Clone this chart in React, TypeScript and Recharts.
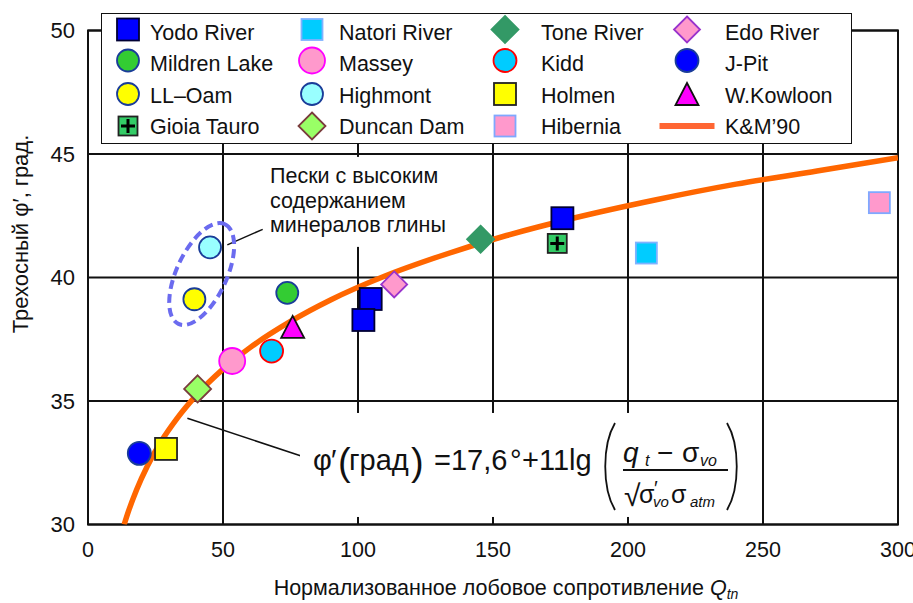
import React from 'react';
import {
  ComposedChart,
  Scatter,
  Line,
  XAxis,
  YAxis,
  CartesianGrid,
  Legend,
  ReferenceLine,
  ReferenceDot,
  ReferenceArea,
} from 'recharts';

const FONT = '"Liberation Sans", Arial, Helvetica, sans-serif';

// Qtn / φ' readings per site
const yodoRiver = [{ x: 175.7, y: 42.4 }, { x: 104.7, y: 39.13 }, { x: 102.0, y: 38.28 }];
const mildrenLake = [{ x: 73.8, y: 39.38 }];
const llOam = [{ x: 39.4, y: 39.12 }];
const gioiaTauro = [{ x: 173.8, y: 41.38 }];
const natoriRiver = [{ x: 206.8, y: 40.99 }];
const massey = [{ x: 53.4, y: 36.62 }];
const highmont = [{ x: 45.2, y: 41.22 }];
const duncanDam = [{ x: 40.6, y: 35.49 }];
const toneRiver = [{ x: 145.4, y: 41.55 }];
const kidd = [{ x: 68.0, y: 37.02 }];
const holmen = [{ x: 28.9, y: 33.06 }];
const hibernia = [{ x: 293.1, y: 43.03 }];
const edoRiver = [{ x: 113.4, y: 39.72 }];
const jPit = [{ x: 19.0, y: 32.88 }];
const wKowloon = [{ x: 75.8, y: 38.0 }];

// K&M'90 curve, read off the picture
const kmQ = [13.4, 15, 18, 22, 27, 33, 40, 50, 60, 75, 90, 110, 130, 155, 180, 210, 240, 270, 300];
const kmPhi = [30.0, 30.54, 31.41, 32.37, 33.35, 34.3, 35.22, 36.29, 37.16, 38.22, 39.1, 40.06, 40.85, 41.7, 42.41, 43.14, 43.78, 44.31, 44.85];
const kmCurve = kmQ.map((q, i) => ({ x: q, y: kmPhi[i] }));

const xTicks = [0, 50, 100, 150, 200, 250, 300];
const yTicks = [30, 35, 40, 45, 50];

type Kind = 'square' | 'circle' | 'diamond' | 'triangle' | 'plus' | 'line';
interface Mark { kind: Kind; size: number; fill: string; stroke: string }

// legend order is column-major, 4 rows
const series: { name: string; data: { x: number; y: number }[]; m: Mark }[] = [
  { name: 'Yodo River', data: yodoRiver, m: { kind: 'square', size: 22, fill: '#0000ff', stroke: '#000033' } },
  { name: 'Mildren Lake', data: mildrenLake, m: { kind: 'circle', size: 22, fill: '#33cc33', stroke: '#1a3d99' } },
  { name: 'LL–Oam', data: llOam, m: { kind: 'circle', size: 22, fill: '#ffff00', stroke: '#1a3d99' } },
  { name: 'Gioia Tauro', data: gioiaTauro, m: { kind: 'plus', size: 19, fill: '#33cc66', stroke: '#222' } },
  { name: 'Natori River', data: natoriRiver, m: { kind: 'square', size: 21, fill: '#00ccff', stroke: '#7fb2ff' } },
  { name: 'Massey', data: massey, m: { kind: 'circle', size: 26, fill: '#ff99cc', stroke: '#ff00ff' } },
  { name: 'Highmont', data: highmont, m: { kind: 'circle', size: 22, fill: '#99ffff', stroke: '#1a3d99' } },
  { name: 'Duncan Dam', data: duncanDam, m: { kind: 'diamond', size: 27, fill: '#99ff66', stroke: '#7a3d3d' } },
  { name: 'Tone River', data: toneRiver, m: { kind: 'diamond', size: 27, fill: '#339966', stroke: '#339966' } },
  { name: 'Kidd', data: kidd, m: { kind: 'circle', size: 23, fill: '#00ccff', stroke: '#ff0000' } },
  { name: 'Holmen', data: holmen, m: { kind: 'square', size: 22, fill: '#ffff00', stroke: '#222' } },
  { name: 'Hibernia', data: hibernia, m: { kind: 'square', size: 21, fill: '#ff99cc', stroke: '#7fa8ff' } },
  { name: 'Edo River', data: edoRiver, m: { kind: 'diamond', size: 26, fill: '#ff99cc', stroke: '#9933cc' } },
  { name: 'J-Pit', data: jPit, m: { kind: 'circle', size: 23, fill: '#0000ff', stroke: '#1a3d99' } },
  { name: 'W.Kowloon', data: wKowloon, m: { kind: 'triangle', size: 22, fill: '#ff00ff', stroke: '#111' } },
];
const kmMark: Mark = { kind: 'line', size: 55, fill: 'none', stroke: '#ff6633' };

const drawMark = (m: Mark, cx: number, cy: number) => {
  const h = m.size / 2;
  if (m.kind === 'square')
    return <rect x={cx - h} y={cy - h} width={m.size} height={m.size} fill={m.fill} stroke={m.stroke} strokeWidth={1.8} />;
  if (m.kind === 'circle')
    return <circle cx={cx} cy={cy} r={h} fill={m.fill} stroke={m.stroke} strokeWidth={1.8} />;
  if (m.kind === 'diamond')
    return (
      <polygon
        points={`${cx},${cy - h} ${cx + h},${cy} ${cx},${cy + h} ${cx - h},${cy}`}
        fill={m.fill}
        stroke={m.stroke}
        strokeWidth={1.8}
      />
    );
  if (m.kind === 'triangle')
    return (
      <polygon
        points={`${cx},${cy - h} ${cx + h + 0.5},${cy + h} ${cx - h - 0.5},${cy + h}`}
        fill={m.fill}
        stroke={m.stroke}
        strokeWidth={1.8}
      />
    );
  if (m.kind === 'plus')
    return (
      <g>
        <rect x={cx - h} y={cy - h} width={m.size} height={m.size} fill={m.fill} stroke={m.stroke} strokeWidth={1.8} />
        <path d={`M${cx - 7} ${cy}H${cx + 7}M${cx} ${cy - 7}V${cy + 7}`} stroke="#000" strokeWidth={3} />
      </g>
    );
  return <line x1={cx - h} x2={cx + h} y1={cy} y2={cy} stroke={m.stroke} strokeWidth={6} />;
};

const legendIconX = [27, 211, 404, 586];
const legendTextX = [49, 238, 440, 624];
const legendIconY = [16.5, 47.5, 81, 113];
const legendTextY = [26.5, 57.5, 90, 120.5];

const LegendBox = () => {
  const items = [...series.map((s) => ({ name: s.name, m: s.m })), { name: 'K&M’90', m: kmMark }];
  return (
    <div style={{ width: 751, height: 131, background: '#fff', border: '1.5px solid #111', boxSizing: 'border-box' }}>
      <svg width={748} height={128} style={{ display: 'block', position: 'absolute', left: 0, top: 0 }}>
        {items.map((it, i) => {
          const col = Math.floor(i / 4);
          const row = i % 4;
          return (
            <g key={it.name}>
              {drawMark(it.m, legendIconX[col], legendIconY[row])}
              <text x={legendTextX[col]} y={legendTextY[row]} fontSize={21.5} fontFamily={FONT} fill="#111">
                {it.name}
              </text>
            </g>
          );
        })}
      </svg>
    </div>
  );
};

const XTick = (props: any) => (
  <text x={props.x} y={557} textAnchor="middle" fontSize={21.5} fontFamily={FONT} fill="#111">
    {props.payload.value}
  </text>
);

const YTick = (props: any) => (
  <text x={75} y={props.y + 7.8} textAnchor="end" fontSize={22} fontFamily={FONT} fill="#111">
    {props.payload.value}
  </text>
);

const NoteShape = (props: any) => {
  const { cx, cy } = props;
  return (
    <g fontFamily={FONT} fontSize={21.5} fill="#111">
      <rect x={cx - 6} y={cy - 26.5} width={190} height={90} fill="#fff" />
      <text x={cx} y={cy}>Пески с высоким</text>
      <text x={cx} y={cy + 24.5}>содержанием</text>
      <text x={cx} y={cy + 49}>минералов глины</text>
    </g>
  );
};

const EllipseShape = (props: any) => {
  const { cx, cy } = props;
  return (
    <ellipse
      cx={cx}
      cy={cy}
      rx={55}
      ry={25}
      transform={`rotate(-65 ${cx} ${cy})`}
      fill="none"
      stroke="#6b6bef"
      strokeWidth={4}
      strokeDasharray="9 5"
    />
  );
};

const FormulaShape = (props: any) => {
  const { cx, cy } = props;
  const t = (dx: number, dy: number, s: string, size = 29, italic = false) => (
    <text x={cx + dx} y={cy + dy} fontSize={size} fontStyle={italic ? 'italic' : 'normal'}>
      {s}
    </text>
  );
  return (
    <g fontFamily={FONT} fill="#111">
      <rect x={cx - 220} y={cy - 52} width={446} height={104} fill="#fff" />
      {t(-207, 5, 'φ')}
      {t(-189, 5, '′')}
      {t(-182, 10, '(', 38)}
      {t(-171, 5, 'град')}
      {t(-109, 10, ')', 38)}
      {t(-86, 5, '=17,6')}
      {t(-10, 5, '°')}
      {t(2, 5, '+11lg')}
      <path
        d={`M${cx + 95} ${cy - 42}C${cx + 82} ${cy - 20} ${cx + 82} ${cy + 23} ${cx + 95} ${cy + 45}`}
        fill="none"
        stroke="#111"
        strokeWidth={1.8}
      />
      {t(103, -3, 'q', 28, true)}
      {t(125, 1, 't', 16, true)}
      {t(137, -3, '−', 28)}
      {t(162, -3, 'σ', 28)}
      {t(180, 1, 'vo', 16, true)}
      <line x1={cx + 103} x2={cx + 208} y1={cy + 5} y2={cy + 5} stroke="#111" strokeWidth={2} />
      {t(104, 41, '√', 30)}
      {t(119, 38, 'σ', 25)}
      {t(134, 30, '′', 20)}
      {t(133, 42, 'vo', 15, true)}
      {t(151, 38, 'σ', 25)}
      {t(170, 42, 'atm', 15, true)}
      <path
        d={`M${cx + 207} ${cy - 42}C${cx + 220} ${cy - 20} ${cx + 220} ${cy + 23} ${cx + 207} ${cy + 45}`}
        fill="none"
        stroke="#111"
        strokeWidth={1.8}
      />
    </g>
  );
};

export default function App() {
  return (
    <div style={{ position: 'absolute', left: 0, top: 0, width: 913, height: 603, background: '#fff' }}>
      <ComposedChart
        width={913}
        height={603}
        margin={{ top: 30.5, right: 15, bottom: 38.5, left: 28 }}
        style={{ fontFamily: FONT }}
      >
        <CartesianGrid stroke="#111" strokeWidth={2} />
        <XAxis
          type="number"
          dataKey="x"
          domain={[0, 300]}
          ticks={xTicks}
          allowDataOverflow
          height={40}
          tickLine={false}
          axisLine={false}
          tick={XTick}
          label={{
            content: () => (
              <text x={506} y={595} textAnchor="middle" fontSize={21.5} fontFamily={FONT} fill="#111">
                Нормализованное лобовое сопротивление <tspan fontStyle="italic">Q</tspan>
                <tspan fontStyle="italic" fontSize={14} dy={4}>tn</tspan>
              </text>
            ),
          }}
        />
        <YAxis
          type="number"
          dataKey="y"
          domain={[30, 50]}
          ticks={yTicks}
          allowDataOverflow
          width={60}
          tickLine={false}
          axisLine={false}
          tick={YTick}
          label={{
            content: () => (
              <text
                x={28}
                y={234}
                transform="rotate(-90 28 234)"
                textAnchor="middle"
                fontSize={22}
                fontFamily={FONT}
                fill="#111"
              >
                Трехосный φ′, град.
              </text>
            ),
          }}
        />
        <ReferenceArea x1={0} x2={300} y1={30} y2={50} fill="none" stroke="#111" strokeWidth={2} />
        <ReferenceDot x={67.4} y={43.81} r={0} shape={NoteShape} />
        <ReferenceDot x={160} y={32.41} r={0} shape={FormulaShape} />
        <ReferenceLine segment={[{ x: 36.8, y: 34.3 }, { x: 82.6, y: 32.64 }]} stroke="#111" strokeWidth={1.5} />
        <ReferenceLine segment={[{ x: 51.6, y: 41.32 }, { x: 64.7, y: 41.95 }]} stroke="#111" strokeWidth={1.5} />
        <ReferenceDot x={42.1} y={40.14} r={0} shape={EllipseShape} />
        <Line
          data={kmCurve}
          dataKey="y"
          name="K&M’90"
          type="monotone"
          stroke="#ff6600"
          strokeWidth={5.5}
          dot={false}
          activeDot={false}
          isAnimationActive={false}
        />
        {series.map((s) => (
          <Scatter
            key={s.name}
            name={s.name}
            data={s.data}
            dataKey="y"
            isAnimationActive={false}
            shape={(p: any) => drawMark(s.m, p.cx, p.cy)}
          />
        ))}
        <Legend
          layout="horizontal"
          verticalAlign="middle"
          align="center"
          content={LegendBox}
          wrapperStyle={{ left: 101, top: 13, width: 751, height: 131 }}
        />
      </ComposedChart>
    </div>
  );
}
